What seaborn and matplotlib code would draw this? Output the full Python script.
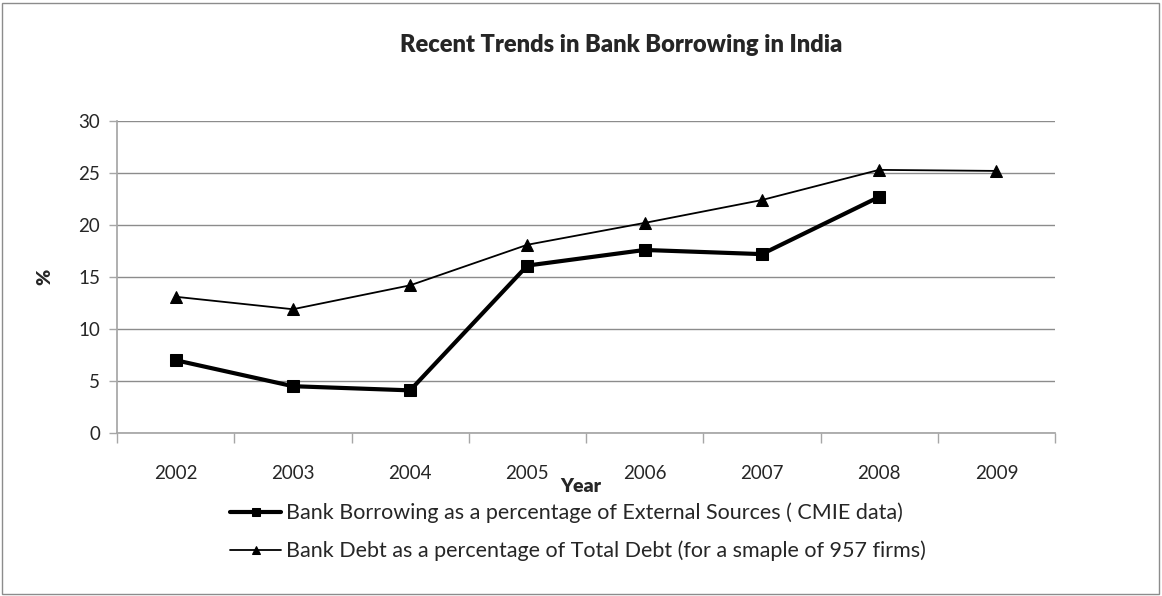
import matplotlib
matplotlib.use("Agg")
import matplotlib.pyplot as plt
import seaborn as sns
import numpy as np
import pandas as pd
from matplotlib.patches import Rectangle

years = ["2002", "2003", "2004", "2005", "2006", "2007", "2008", "2009"]
bank_borrowing = [7.0, 4.5, 4.1, 16.1, 17.6, 17.2, 22.7, np.nan]
bank_debt = [13.1, 11.9, 14.2, 18.1, 20.2, 22.4, 25.3, 25.2]

label1 = "Bank Borrowing as a percentage of External Sources ( CMIE data)"
label2 = "Bank Debt as a percentage of Total Debt (for a smaple of 957 firms)"

sns.set_theme(style="white")
plt.rcParams['font.family'] = ['Lato', 'DejaVu Sans']

fig = plt.figure(figsize=(11.62, 5.96), dpi=100)
ax = fig.add_axes([117/1162, 1 - 433/596, (1055-117)/1162, (433-121)/596])

df1 = pd.DataFrame({"Year": years, "v": bank_borrowing}).dropna()
df2 = pd.DataFrame({"Year": years, "v": bank_debt})

sns.lineplot(data=df1, x="Year", y="v", ax=ax, color="black", linewidth=3,
             marker="s", markersize=9, markeredgecolor="black", label=label1, sort=False)
sns.lineplot(data=df2, x="Year", y="v", ax=ax, color="black", linewidth=1.3,
             marker="^", markersize=9, markeredgecolor="black", label=label2, sort=False)

ax.set_xlim(-0.5, 7.5)
ax.set_ylim(0, 30)
ax.set_yticks(np.arange(0, 31, 5))
ax.set_xticks(range(len(years)))
ax.set_xticklabels(years)
ax.set_xticks(np.arange(-0.5, 8, 1), minor=True)
ax.yaxis.grid(True, color="#8c8c8c", linewidth=1)
ax.xaxis.grid(False)
ax.set_axisbelow(True)
for s in ["top", "right"]:
    ax.spines[s].set_visible(False)
ax.spines["left"].set_color("#a6a6a6")
ax.spines["bottom"].set_color("#a6a6a6")
ax.tick_params(axis="x", which="major", length=0, pad=23, labelsize=13.5)
ax.tick_params(axis="x", which="minor", length=7, color="#a6a6a6", width=1, bottom=True)
ax.tick_params(axis="y", length=6, color="#a6a6a6", width=1, left=True, labelsize=13.5, pad=6)

ax.set_xlabel("")
ax.set_ylabel("")
fig.text(45/1162, 1 - 277/596, "%", rotation=90, fontsize=14, fontweight="heavy",
         ha="center", va="center")
fig.text(581/1162, 1 - 486/596, "Year", fontsize=14, fontweight="heavy",
         ha="center", va="center")
fig.text(621/1162, 1 - 45/596, "Recent Trends in Bank Borrowing in India",
         fontsize=17, fontweight="heavy", ha="center", va="center")

ax.get_legend().remove()
handles, labels = ax.get_legend_handles_labels()
leg = fig.legend(handles, labels, loc="upper left", bbox_to_anchor=(219/1162, 1 - 492/596),
                 frameon=False, fontsize=15.5, handlelength=2.4, handletextpad=0.2,
                 labelspacing=0.8, borderpad=0)
for h in leg.legend_handles:
    h.set_markersize(6)

fig.patches.append(Rectangle((2/1162, 2/596), 1157/1162, 591/596, transform=fig.transFigure,
                             fill=False, edgecolor="#8c8c8c", linewidth=1))

fig.savefig("out.png", dpi=100)
